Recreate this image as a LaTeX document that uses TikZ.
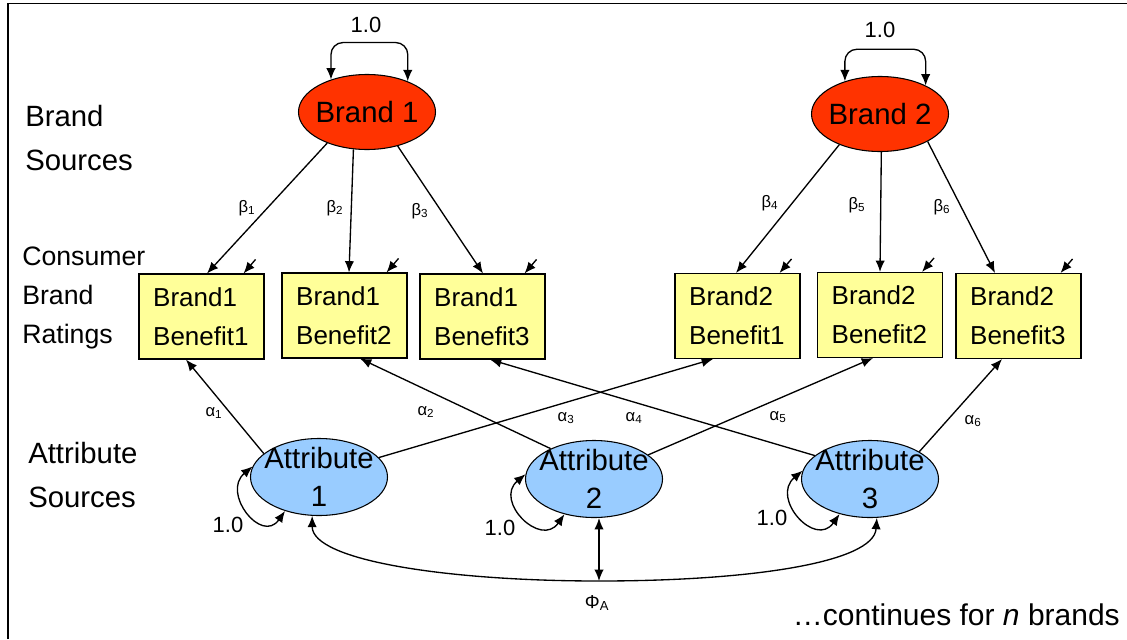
\documentclass[tikz,border=0pt]{standalone}
\usepackage{fontspec}
\setmainfont{Liberation Sans}
\usepackage{tikz}
\usetikzlibrary{arrows.meta,positioning,calc,shapes.geometric}
\usepackage{xcolor}
\definecolor{brandred}{RGB}{255,51,0}
\definecolor{attrblue}{RGB}{153,204,255}
\definecolor{ratingyellow}{RGB}{255,255,153}

\tikzset{
  brandoval/.style={ellipse, draw, fill=brandred, line width=0.8pt, minimum width=102.75pt, minimum height=56.25pt},
  attroval/.style={ellipse, draw, fill=attrblue, line width=0.8pt, minimum width=102.75pt, minimum height=57.75pt},
  ovaltext/.style={align=center, inner sep=0pt, font=\fontsize{22}{29}\selectfont},
  rating/.style={rectangle, draw, fill=ratingyellow, line width=0.8pt, minimum width=93.75pt, minimum height=63.75pt,
    text width=72.5pt, inner xsep=10.5pt, align=left, font=\fontsize{19.5}{29}\selectfont},
  arr/.style={-{Latex[length=8.5pt,width=7pt]}, line width=1pt},
  biarr/.style={{Latex[length=8.5pt,width=7pt]}-{Latex[length=8.5pt,width=7pt]}, line width=1pt},
  coef/.style={inner sep=0pt, font=\fontsize{12.5}{14}\selectfont},
  unit/.style={inner sep=0pt, font=\fontsize{16.5}{19}\selectfont},
  rowlabel/.style={anchor=west, align=left, inner sep=0pt},
}

\begin{document}
\begin{tikzpicture}[x=0.75pt,y=-0.75pt]
  \useasboundingbox (0,0) rectangle (1127,639);
  \draw[line width=1.1pt] (8,639) |- (1127,3.7);

  % row labels
  \node[rowlabel, font=\fontsize{22}{33}\selectfont] (lbrand) at (25,138) {Brand\\Sources};
  \node[rowlabel, font=\fontsize{20}{29}\selectfont] (lrating) at (22,298) {Consumer\\Brand\\Ratings};
  \node[rowlabel, font=\fontsize{22}{33}\selectfont] (lattr) at (28,475) {Attribute\\Sources};

  % brand sources
  \node[brandoval, label={[ovaltext]center:Brand 1}] (b1) at (367,112) {};
  \node[brandoval, label={[ovaltext]center:Brand 2}] (b2) at (880,114) {};

  % ratings
  \node[rating] (bb11) at (201.5,316.5) {Brand1\\Benefit1};
  \node[rating] (bb12) at (344.5,315.5) {Brand1\\Benefit2};
  \node[rating] (bb13) at (482.5,316.5) {Brand1\\Benefit3};
  \node[rating] (bb21) at (737.5,316) {Brand2\\Benefit1};
  \node[rating] (bb22) at (880,315) {Brand2\\Benefit2};
  \node[rating] (bb23) at (1018.5,316) {Brand2\\Benefit3};

  % attribute sources
  \node[attroval, label={[ovaltext]center:{Attribute\\1}}] (a1) at (319,477) {};
  \node[attroval, label={[ovaltext]center:{Attribute\\2}}] (a2) at (594,479) {};
  \node[attroval, label={[ovaltext]center:{Attribute\\3}}] (a3) at (870,479) {};

  % variances of the brands
  \draw[biarr, rounded corners=9pt] (b1.138) -- ++(0,-37) -| (b1.37);
  \draw[biarr, rounded corners=9pt] (b2.137) -- ++(0,-32) -| (b2.32);
  \node[unit] (v1) at (366,25) {1.0};
  \node[unit] (v2) at (880,30) {1.0};

  % brand loadings
  \draw[arr] (b1.218) -- ($(bb11.north)+(5.5,0)$);
  \draw[arr] (b1.250) -- ($(bb12.north)+(4.5,0)$);
  \draw[arr] (b1.312) -- ($(bb13.north)+(0.5,0)$);
  \draw[arr] (b2.217) -- ($(bb21.north)+(-1.5,0)$);
  \draw[arr] (b2.272) -- (bb22.north);
  \draw[arr] (b2.330) -- ($(bb23.north)+(-23.5,0)$);
  \node[coef] (beta1) at (247,208) {β\textsubscript{1}};
  \node[coef] (beta2) at (335,208) {β\textsubscript{2}};
  \node[coef] (beta3) at (420,211) {β\textsubscript{3}};
  \node[coef] (beta4) at (770,203) {β\textsubscript{4}};
  \node[coef] (beta5) at (857,205) {β\textsubscript{5}};
  \node[coef] (beta6) at (942,207) {β\textsubscript{6}};

  % errors
  \foreach \b in {bb11,bb12,bb13,bb21,bb22,bb23}{
    \coordinate (e-\b) at ($(\b.north east)+(-9,-14)$);
    \draw[arr] (e-\b) -- ($(\b.north east)+(-21,0)$);
  }

  % attribute loadings
  \draw[arr] (a1.157) -- ($(bb11.south)+(-15.5,0)$);
  \draw[arr] (a2.145) -- ($(bb12.south)+(15.5,0)$);
  \draw[arr] (a1.18) -- ($(bb21.south)+(-24.5,0)$);
  \draw[arr] (a3.157) -- ($(bb13.south)+(7.5,0)$);
  \draw[arr] (a2.24) -- ($(bb22.south)+(-7,0)$);
  \draw[arr] (a3.29) -- ($(bb23.south)+(-16.5,0)$);
  \node[coef] (alpha1) at (214,413) {α\textsubscript{1}};
  \node[coef] (alpha2) at (426,412) {α\textsubscript{2}};
  \node[coef] (alpha3) at (566,418) {α\textsubscript{3}};
  \node[coef] (alpha4) at (634,418) {α\textsubscript{4}};
  \node[coef] (alpha5) at (778,417) {α\textsubscript{5}};
  \node[coef] (alpha6) at (973,421) {α\textsubscript{6}};

  % variances of the attributes
  \draw[biarr] (a1.171) to[out=220,in=235,looseness=1.9] (a1.225);
  \draw[biarr] (a2.176) to[out=220,in=235,looseness=1.9] (a2.230);
  \draw[biarr] (a3.173) to[out=220,in=235,looseness=1.9] (a3.229);
  \node[unit] (u1) at (228,525) {1.0};
  \node[unit] (u2) at (500,528) {1.0};
  \node[unit] (u3) at (772,518) {1.0};

  % covariance
  \coordinate (phi) at (599,581);
  \draw[biarr] (a1.260) .. controls +(0,45) and +(-150,0) .. (phi)
    .. controls +(150,0) and +(-3,45) .. (a3.280);
  \draw[biarr] (phi |- a2.south) -- (phi);
  \node[inner sep=0pt, font=\fontsize{14}{16}\selectfont] (philab) at (597,603) {Φ\textsubscript{A}};

  \node[anchor=east, inner sep=0pt, font=\fontsize{22.5}{27}\selectfont] (more) at (1120,615) {…continues for \textit{n} brands};
\end{tikzpicture}
\end{document}
